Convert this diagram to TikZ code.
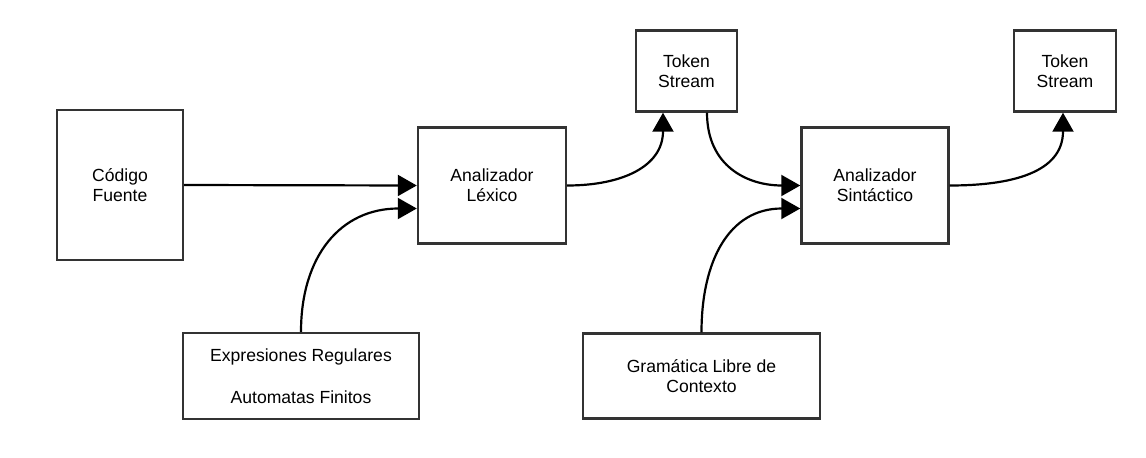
\documentclass[tikz,border=0pt]{standalone}
\usepackage{fontspec}
\setmainfont{Liberation Sans}
\usetikzlibrary{calc,arrows.meta}

\begin{document}
\begin{tikzpicture}[scale=1,
	box/.style={draw=black!80,line width=1.4pt,align=center,font=\fontsize{10}{11.5}\selectfont},
	flow/.style={->,line width=1.25pt,looseness=1.15},
	>={Triangle[length=0.38cm,width=0.42cm]}]
	%\draw[help lines] (0,0) grid (23,9);
	\useasboundingbox (0,0) rectangle (22.92,9.14);

	\node[box,minimum width=2.52cm,minimum height=3cm] (Codigo) at (2.40,5.44) {Código\\Fuente};
	\node[box,minimum width=2.96cm,minimum height=2.32cm] (Lexico) at (9.84,5.43) {Analizador\\Léxico};
	\node[box,minimum width=2.02cm,minimum height=1.62cm] (TokenA) at (13.73,7.72) {Token\\Stream};
	\node[box,minimum width=2.94cm,minimum height=2.32cm] (Sintac) at (17.50,5.43) {Analizador\\Sintáctico};
	\node[box,minimum width=2.04cm,minimum height=1.62cm] (TokenB) at (21.30,7.72) {Token\\Stream};
	\node[box,minimum width=4.72cm,minimum height=1.72cm] (ExpReg) at (6.02,1.62) {Expresiones Regulares\\[12.5pt]Automatas Finitos};
	\node[box,minimum width=4.74cm,minimum height=1.70cm] (Gramat) at (14.03,1.62) {Gramática Libre de\\Contexto};

	\draw[flow] (Codigo.east) -- (Lexico.west);
	\draw[flow] (ExpReg.north) to[out=90,in=180] ($(Lexico.west)+(0,-0.46)$);
	\draw[flow] (Lexico.east) to[out=0,in=-90] ($(TokenA.south)+(-0.47,0)$);
	\draw[flow] ($(TokenA.south)+(0.41,0)$) to[out=-90,in=180] (Sintac.west);
	\draw[flow] (Gramat.north) to[out=90,in=180] ($(Sintac.west)+(0,-0.46)$);
	\draw[flow] (Sintac.east) to[out=0,in=-90] ($(TokenB.south)+(-0.04,0)$);

\end{tikzpicture}
\end{document}
